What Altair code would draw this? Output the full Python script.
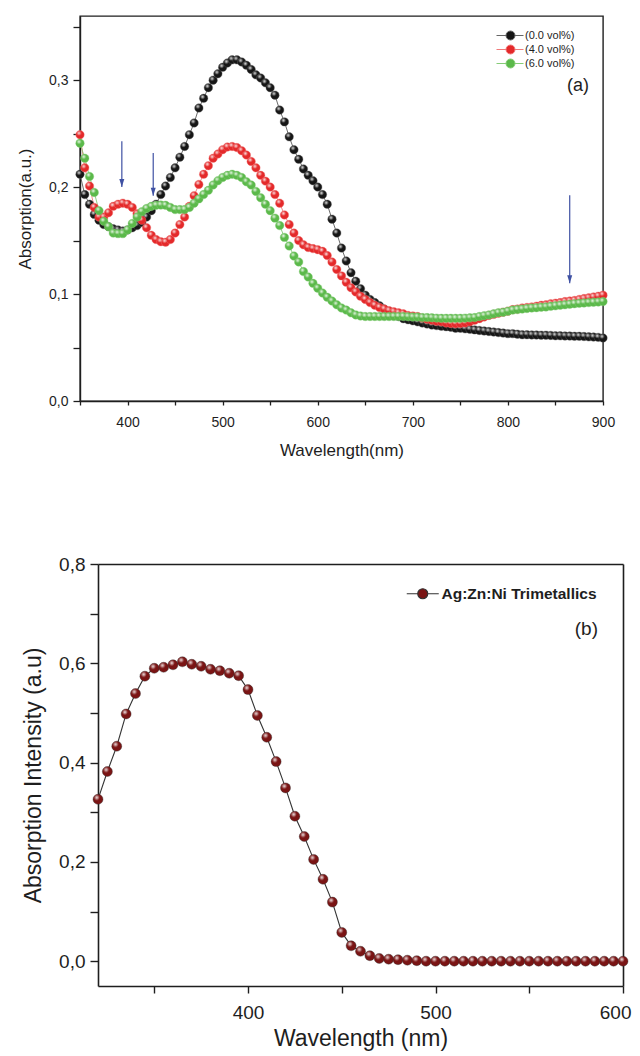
import altair as alt
import pandas as pd

# ---------------- Panel (a) data ----------------
wl_a = list(range(350, 905, 5))
series_a = ["(0.0 vol%)", "(4.0 vol%)", "(6.0 vol%)"]

abs_0 = [0.212, 0.193, 0.184, 0.1745, 0.169, 0.165, 0.163, 0.161, 0.160, 0.159,
         0.160, 0.162, 0.164, 0.167, 0.172, 0.178, 0.184, 0.193, 0.201, 0.209,
         0.218, 0.228, 0.238, 0.249, 0.260, 0.274, 0.283, 0.293, 0.300, 0.306,
         0.312, 0.316, 0.319, 0.319, 0.317, 0.314, 0.310, 0.305, 0.302, 0.2975,
         0.293, 0.286, 0.272, 0.261, 0.247, 0.235, 0.226, 0.217, 0.211, 0.206,
         0.200, 0.193, 0.184, 0.170, 0.157, 0.143, 0.131, 0.120, 0.112, 0.105,
         0.099, 0.095, 0.092, 0.089, 0.086, 0.084, 0.081, 0.079, 0.077, 0.076,
         0.075, 0.074, 0.073, 0.072, 0.071, 0.0705, 0.070, 0.0695, 0.069, 0.068,
         0.068, 0.0675, 0.067, 0.0665, 0.066, 0.0655, 0.065, 0.0645, 0.064, 0.0635,
         0.063, 0.063, 0.0625, 0.062, 0.062, 0.0618, 0.0617, 0.0615, 0.0615, 0.0613,
         0.061, 0.061, 0.0608, 0.0607, 0.0605, 0.0605, 0.0603, 0.060, 0.0598, 0.0595,
         0.059]

abs_4 = [0.249, 0.218, 0.201, 0.181, 0.172, 0.172, 0.176, 0.182, 0.184, 0.185,
         0.184, 0.181, 0.175, 0.169, 0.162, 0.155, 0.151, 0.149, 0.1485, 0.151,
         0.157, 0.165, 0.172, 0.182, 0.192, 0.2025, 0.212, 0.220, 0.227, 0.231,
         0.235, 0.2375, 0.238, 0.237, 0.234, 0.230, 0.224, 0.218, 0.211, 0.2056,
         0.200, 0.193, 0.185, 0.174, 0.165, 0.157, 0.150, 0.146, 0.1435, 0.1425,
         0.1415, 0.140, 0.136, 0.130, 0.123, 0.117, 0.111, 0.106, 0.102, 0.098,
         0.095, 0.092, 0.0895, 0.0875, 0.086, 0.0845, 0.0835, 0.0825, 0.0815, 0.080,
         0.0795, 0.079, 0.0775, 0.0765, 0.0755, 0.0745, 0.074, 0.073, 0.0725, 0.0723,
         0.0725, 0.073, 0.074, 0.0755, 0.077, 0.0785, 0.080, 0.081, 0.082, 0.083,
         0.084, 0.0855, 0.086, 0.087, 0.0875, 0.088, 0.0887, 0.0895, 0.090, 0.091,
         0.0915, 0.092, 0.093, 0.0935, 0.094, 0.095, 0.0958, 0.0965, 0.0973, 0.098,
         0.099]

abs_6 = [0.241, 0.227, 0.210, 0.195, 0.178, 0.168, 0.163, 0.157, 0.1565, 0.1565,
         0.160, 0.166, 0.172, 0.177, 0.180, 0.182, 0.183, 0.1832, 0.183, 0.181,
         0.179, 0.179, 0.179, 0.181, 0.185, 0.189, 0.193, 0.197, 0.202, 0.206,
         0.209, 0.211, 0.212, 0.211, 0.209, 0.205, 0.202, 0.196, 0.190, 0.184,
         0.178, 0.171, 0.164, 0.153, 0.145, 0.1355, 0.130, 0.121, 0.116, 0.110,
         0.1055, 0.101, 0.097, 0.0935, 0.090, 0.087, 0.085, 0.0825, 0.0805, 0.0795,
         0.079, 0.079, 0.079, 0.079, 0.079, 0.079, 0.079, 0.079, 0.079, 0.0788,
         0.0785, 0.0785, 0.078, 0.078, 0.0778, 0.0775, 0.0773, 0.0773, 0.0773, 0.0773,
         0.0773, 0.0775, 0.0778, 0.078, 0.079, 0.0798, 0.0805, 0.0815, 0.0825, 0.083,
         0.084, 0.085, 0.0855, 0.086, 0.0865, 0.087, 0.0873, 0.0877, 0.088, 0.0885,
         0.089, 0.0895, 0.090, 0.0905, 0.091, 0.0913, 0.0917, 0.092, 0.0923, 0.0926,
         0.093]

# annotation arrows in panel (a): wavelength, start value, tip value
arrow_wl = [394, 427, 865]
arrow_top = [0.243, 0.232, 0.1925]
arrow_tip = [0.200, 0.192, 0.110]

# ---------------- Panel (b) data ----------------
wl_b = list(range(320, 605, 5))
series_b = ["Ag:Zn:Ni Trimetallics"]
abs_b = [0.326, 0.382, 0.433, 0.498, 0.539, 0.574, 0.590, 0.592, 0.597, 0.603,
         0.598, 0.594, 0.588, 0.585, 0.580, 0.575, 0.547, 0.495, 0.451, 0.402,
         0.349, 0.292, 0.251, 0.205, 0.165, 0.119, 0.058, 0.031, 0.020, 0.011,
         0.0055, 0.004, 0.003, 0.002, 0.001, 0.0, 0.0, 0.0, 0.0, 0.0,
         0.0, 0.0, 0.0, 0.0, 0.0, 0.0, 0.0, 0.0, 0.0, 0.0,
         0.0, 0.0, 0.0, 0.0, 0.0, 0.0, 0.0]

panel_labels = ["(a)", "(b)"]

# ---------------- styling ----------------
FONT = "Liberation Sans"
INK = "#1e1e1e"
fill_a = ["#161616", "#e4292a", "#5bb94a"]
stroke_a = ["#666666", "#f07a7a", "#86cc78"]
line_a = ["#444444", "#ef6a6a", "#78c468"]
fill_b = ["#7a1414"]
stroke_b = ["#333333"]
ARROW = "#3f51a3"
SHIFT_B = 18  # panel (b) plot starts further right than panel (a)

highlight = {
    "gradient": "radial",
    "x1": 0.38, "y1": 0.32, "r1": 0.0,
    "x2": 0.38, "y2": 0.32, "r2": 0.3,
    "stops": [
        {"offset": 0.0, "color": "rgba(255,255,255,0.9)"},
        {"offset": 1.0, "color": "rgba(255,255,255,0)"},
    ],
}

sym_a = "M-2.8,0H-0.9M0.9,0H2.6M-0.9,0A0.9,0.9,0,1,1,0.9,0A0.9,0.9,0,1,1,-0.9,0Z"
sym_b = "M-3.2,0H-1M1,0H3.2M-1,0A1,1,0,1,1,1,0A1,1,0,1,1,-1,0Z"
arrow_head = "M-1,-3.2L1,-3.2L0,0Z"

comma_1f = "replace(format(datum.value, '.1f'), '.', ',')"

# ---------------- panel (a) ----------------
df_a = pd.DataFrame({
    "wl": wl_a * 3,
    "val": abs_0 + abs_4 + abs_6,
    "series": [s for s in series_a for _ in wl_a],
})
df_arrow = pd.DataFrame({"wl": arrow_wl, "top": arrow_top, "tip": arrow_tip})

ax_xa = alt.Axis(title="Wavelength(nm)", values=list(range(350, 901, 50)),
                 labelExpr="datum.value % 100 == 0 ? '' + datum.value : ''",
                 tickSize=4, tickWidth=1.3, tickColor=INK, domainColor=INK, domainWidth=1.4,
                 labelFontSize=14, labelColor=INK, labelPadding=10, labelFlush=False,
                 labelOverlap=False, titleFontSize=17, titleFontWeight="normal",
                 titleColor=INK, titlePadding=13, grid=False)
ax_ya = alt.Axis(title="Absorption(a.u.)", values=[0, 0.05, 0.1, 0.15, 0.2, 0.25, 0.3, 0.35],
                 labelExpr="round(datum.value*100) % 10 == 0 ? " + comma_1f + " : ''",
                 tickSize=7, tickWidth=1.3, tickColor=INK, domainColor=INK, domainWidth=1.4,
                 labelFontSize=14, labelColor=INK, labelPadding=5, labelFlush=False,
                 labelOverlap=False, titleFontSize=17, titleFontWeight="normal",
                 titleColor=INK, titlePadding=14, grid=False)
sx_a = alt.Scale(domain=[350, 900], nice=False, zero=False)
sy_a = alt.Scale(domain=[0, 0.36], nice=False, zero=False)


def xa(field="wl"):
    return alt.X(f"{field}:Q", scale=sx_a, axis=ax_xa)


def ya(field="val"):
    return alt.Y(f"{field}:Q", scale=sy_a, axis=ax_ya)


legend_a = alt.Legend(title=None, orient="none", legendX=425, legendY=14,
                      symbolType=sym_a, symbolSize=100, symbolStrokeWidth=1,
                      labelFont=FONT, labelFontSize=11, labelColor=INK,
                      labelOffset=9, rowPadding=1, padding=0)

base_a = alt.Chart(df_a)
layers_a = []
for s, lc in zip(series_a, line_a):
    sub = base_a.transform_filter(alt.datum.series == s)
    layers_a.append(sub.mark_line(strokeWidth=0.8, color=lc).encode(x=xa(), y=ya()))
for s in series_a:
    sub = base_a.transform_filter(alt.datum.series == s)
    layers_a.append(
        sub.mark_point(filled=True, size=72, strokeWidth=0.4, opacity=1).encode(
            x=xa(), y=ya(),
            fill=alt.Fill("series:N", scale=alt.Scale(domain=series_a, range=fill_a), legend=legend_a),
            stroke=alt.Stroke("series:N", scale=alt.Scale(domain=series_a, range=stroke_a), legend=legend_a),
        )
    )
    layers_a.append(
        sub.mark_point(filled=True, size=72, fill=highlight, strokeWidth=0, opacity=1).encode(
            x=xa(), y=ya()
        )
    )

arrow_base = alt.Chart(df_arrow)
layers_a.append(arrow_base.mark_rule(color=ARROW, strokeWidth=1.2).encode(
    x=xa(), y=ya("top"), y2="tip:Q"))
layers_a.append(arrow_base.mark_point(shape=arrow_head, filled=True, size=25, color=ARROW, opacity=1).encode(
    x=xa(), y=ya("tip")))
layers_a.append(alt.Chart(pd.DataFrame({"t": [panel_labels[0]]})).mark_text(
    align="right", baseline="middle", fontSize=18, font=FONT, color=INK).encode(
    text="t:N", x=alt.value(509), y=alt.value(70)))

chart_a = alt.layer(*layers_a).properties(width=523, height=385)

# ---------------- panel (b) ----------------
W_B = 525
H_B = 422
df_b = pd.DataFrame({"wl": wl_b, "val": abs_b, "series": series_b * len(wl_b)})

ax_xb = alt.Axis(title="Wavelength (nm)", values=[350, 400, 450, 500, 550, 600],
                 labelExpr="datum.value % 100 == 0 ? '' + datum.value : ''",
                 tickSize=7, tickWidth=1.4, tickColor=INK, domainColor=INK, domainWidth=1.6,
                 labelFontSize=19, labelColor=INK, labelPadding=10, labelFlush=1,
                 labelFlushOffset=8, labelOverlap=False, titleFontSize=23,
                 titleFontWeight="normal", titleColor=INK, titlePadding=5, grid=False)
ax_yb = alt.Axis(title="Absorption Intensity (a.u)",
                 values=[0, 0.1, 0.2, 0.3, 0.4, 0.5, 0.6, 0.7, 0.8],
                 labelExpr="round(datum.value*10) % 2 == 0 ? " + comma_1f + " : ''",
                 tickSize=8, tickWidth=1.4, tickColor=INK, domainColor=INK, domainWidth=1.6,
                 labelFontSize=19, labelColor=INK, labelPadding=5, labelFlush=False,
                 labelOverlap=False, titleFontSize=23, titleFontWeight="normal",
                 titleColor=INK, titlePadding=13, grid=False, offset=-SHIFT_B)
ax_top_b = alt.Axis(orient="top", title=None, labels=False, ticks=False, domain=True,
                    domainColor=INK, domainWidth=1.6, grid=False)
ax_right_b = alt.Axis(orient="right", title=None, labels=False, ticks=False, domain=True,
                      domainColor=INK, domainWidth=1.6, grid=False)
sx_b = alt.Scale(domain=[320, 600], nice=False, zero=False, range=[SHIFT_B, SHIFT_B + W_B])
sy_b = alt.Scale(domain=[-0.05, 0.8], nice=False, zero=False)
xb = alt.X("wl:Q", scale=sx_b, axis=ax_xb)
yb = alt.Y("val:Q", scale=sy_b, axis=ax_yb)

legend_b = alt.Legend(title=None, orient="none", legendX=335, legendY=22,
                      symbolType=sym_b, symbolSize=100, symbolStrokeWidth=1.2,
                      labelFont=FONT, labelFontSize=15.5, labelFontWeight="bold",
                      labelColor=INK, labelOffset=11, padding=0, labelLimit=300)

base_b = alt.Chart(df_b)
data_b = alt.layer(
    base_b.mark_line(strokeWidth=1.1, color="#333333").encode(x=xb, y=yb),
    base_b.mark_point(filled=True, size=100, strokeWidth=0.4, opacity=1).encode(
        x=xb, y=yb,
        fill=alt.Fill("series:N", scale=alt.Scale(domain=series_b, range=fill_b), legend=legend_b),
        stroke=alt.Stroke("series:N", scale=alt.Scale(domain=series_b, range=stroke_b), legend=legend_b),
    ),
    base_b.mark_point(filled=True, size=100, fill=highlight, strokeWidth=0, opacity=1).encode(x=xb, y=yb),
    alt.Chart(pd.DataFrame({"t": [panel_labels[1]]})).mark_text(
        align="right", baseline="middle", fontSize=19, font=FONT, color=INK).encode(
        text="t:N", x=alt.value(518), y=alt.value(65)),
)
frame_b = base_b.mark_point(opacity=0).encode(
    x=alt.X("wl:Q", scale=sx_b, axis=ax_top_b),
    y=alt.Y("val:Q", scale=sy_b, axis=ax_right_b),
)
chart_b = alt.layer(data_b, frame_b).resolve_axis(x="independent", y="independent").properties(
    width=SHIFT_B + W_B, height=H_B, view=alt.ViewBackground(stroke="transparent")
)

chart = alt.vconcat(chart_a, chart_b, spacing=95).resolve_scale(
    fill="independent", stroke="independent"
).resolve_legend(fill="independent", stroke="independent").properties(
    padding={"left": 7, "top": 7, "right": 0, "bottom": 0}
).configure(font=FONT).configure_view(stroke=INK, strokeWidth=1.4)

chart.save("out.html", embed_options={"renderer": "svg", "actions": False})
